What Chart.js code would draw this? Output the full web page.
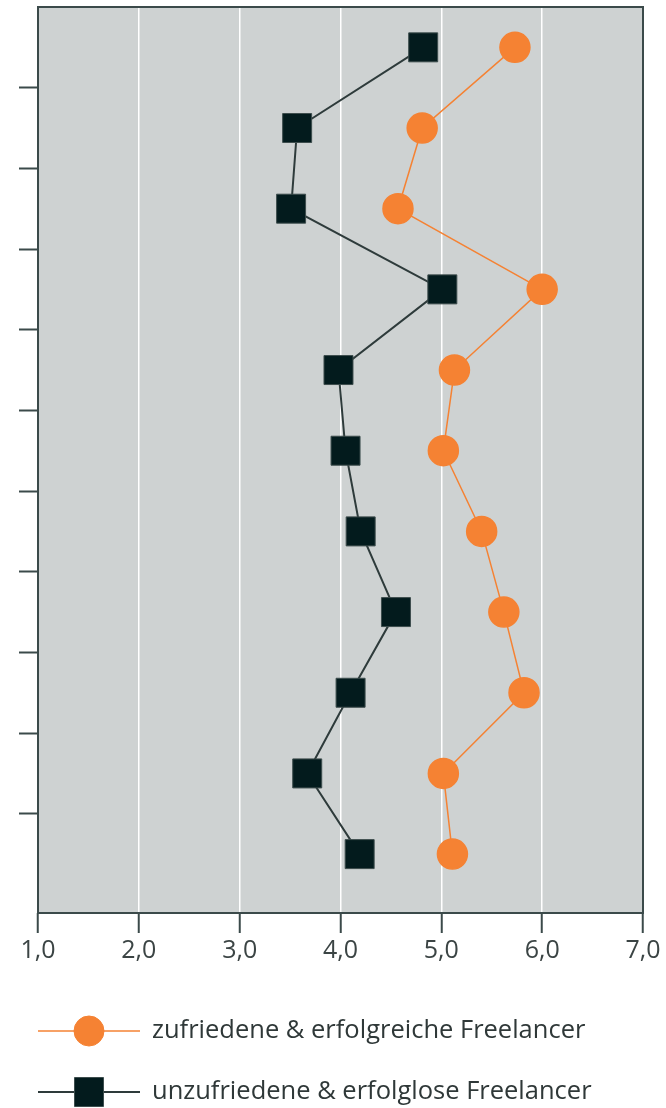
<!DOCTYPE html>
<html>
<head>
<meta charset="utf-8">
<script src="https://cdn.jsdelivr.net/npm/chart.js@4"></script>
<style>
	html, body { margin: 0; padding: 0; background: #fff; }
	#wrap { width: 666px; height: 1108px; }
</style>
</head>
<body>
<div id="wrap"><canvas id="chart"></canvas></div>
<script>
// unlabeled items, top to bottom
const items = ['1', '2', '3', '4', '5', '6', '7', '8', '9', '10', '11'];
const satisfied = [5.73, 4.81, 4.57, 6.00, 5.13, 5.02, 5.40, 5.62, 5.82, 5.02, 5.11];
const unsatisfied = [4.82, 3.57, 3.51, 5.01, 3.98, 4.05, 4.20, 4.55, 4.10, 3.67, 4.19];
const xTicks = [1, 2, 3, 4, 5, 6, 7];
const seriesLabels = ['zufriedene & erfolgreiche Freelancer', 'unzufriedene & erfolglose Freelancer'];

const orange = '#f58233';
const dark = '#031b1d';
const axisColor = '#3b4a4a';
const plotBg = '#ced2d2';
const fontFamily = '"Open Sans", "DejaVu Sans", sans-serif';

const toPoints = (values) => values.map((v, i) => ({ x: v, y: i }));

const plotFrame = {
	id: 'plotFrame',
	beforeDraw(chart) {
		const { ctx, chartArea: a } = chart;
		ctx.save();
		ctx.fillStyle = plotBg;
		ctx.fillRect(a.left, a.top, a.right - a.left, a.bottom - a.top);
		ctx.restore();
	},
	afterDraw(chart) {
		const { ctx, chartArea: a } = chart;
		ctx.save();
		ctx.strokeStyle = axisColor;
		ctx.lineWidth = 2;
		ctx.strokeRect(a.left, a.top, a.right - a.left, a.bottom - a.top);
		ctx.restore();
	},
};

// legend: line through the marker, label to the right
const lineLegend = {
	id: 'lineLegend',
	afterDraw(chart) {
		const { ctx } = chart;
		const rows = [1031, 1092];
		ctx.save();
		chart.data.datasets.forEach((ds, i) => {
			const y = rows[i];
			ctx.strokeStyle = ds.borderColor;
			ctx.lineWidth = ds.borderWidth;
			ctx.beginPath();
			ctx.moveTo(38, y);
			ctx.lineTo(140, y);
			ctx.stroke();
			ctx.fillStyle = ds.pointBackgroundColor;
			ctx.strokeStyle = ds.pointBorderColor;
			ctx.lineWidth = 1;
			Chart.helpers.drawPoint(ctx, { pointStyle: ds.pointStyle, radius: ds.pointRadius, borderWidth: 1 }, 89, y);
			ctx.fillStyle = '#2f3838';
			ctx.font = '25.5px ' + fontFamily;
			ctx.textBaseline = 'middle';
			ctx.textAlign = 'left';
			ctx.fillText(ds.label, 152, y);
		});
		ctx.restore();
	},
};

new Chart(document.getElementById('chart'), {
	type: 'line',
	data: {
		datasets: [
			{
				label: seriesLabels[0],
				data: toPoints(satisfied),
				borderColor: orange,
				borderWidth: 1.5,
				pointStyle: 'circle',
				pointRadius: 15,
				pointHoverRadius: 15,
				pointBackgroundColor: orange,
				pointBorderColor: orange,
			},
			{
				label: seriesLabels[1],
				data: toPoints(unsatisfied),
				borderColor: '#2e3b3b',
				borderWidth: 2,
				pointStyle: 'rect',
				pointRadius: 20.5,
				pointHoverRadius: 20.5,
				pointBackgroundColor: dark,
				pointBorderColor: '#3d4d4d',
				pointBorderWidth: 1,
			},
		],
	},
	options: {
		responsive: true,
		maintainAspectRatio: false,
		animation: false,
		layout: { autoPadding: false, padding: { top: 7, right: 23, bottom: 135, left: 0 } },
		plugins: {
			legend: { display: false },
			tooltip: { enabled: false },
		},
		scales: {
			x: {
				type: 'linear',
				min: xTicks[0],
				max: xTicks[xTicks.length - 1],
				afterBuildTicks: (scale) => { scale.ticks = xTicks.map(v => ({ value: v })); },
				afterFit: (scale) => { scale.height = 60; },
				border: { display: false },
				grid: { color: '#ffffff', lineWidth: 1.5, tickColor: axisColor, tickLength: 20, tickWidth: 2 },
				ticks: {
					color: '#3b4444',
					padding: 3,
					font: { family: fontFamily, size: 25 },
					callback: (v) => v.toFixed(1).replace('.', ','),
				},
			},
			y: {
				type: 'linear',
				reverse: true,
				min: -0.5,
				max: 10.73,
				afterBuildTicks: (scale) => {
					scale.ticks = items.slice(1).map((_, i) => ({ value: i + 0.5 }));
				},
				afterFit: (scale) => { scale.width = 38; scale.paddingTop = 0; scale.paddingBottom = 0; },
				border: { display: false },
				grid: { drawOnChartArea: false, tickColor: axisColor, tickLength: 19, tickWidth: 2 },
				ticks: { callback: () => '', padding: 0 },
			},
		},
	},
	plugins: [plotFrame, lineLegend],
});
</script>
</body>
</html>
